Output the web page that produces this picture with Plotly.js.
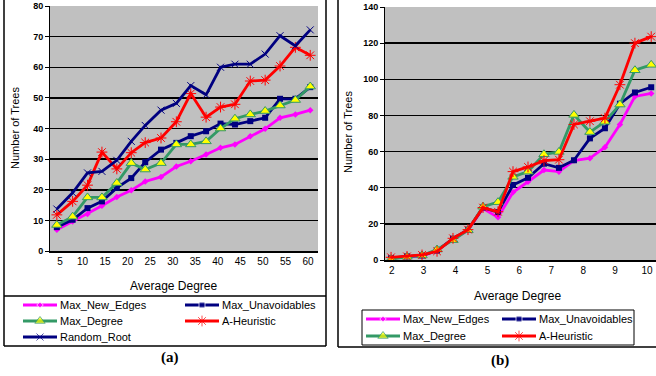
<!DOCTYPE html>
<html>
<head>
<meta charset="utf-8">
<script src="https://cdn.plot.ly/plotly-3.0.1.min.js"></script>
<style>html,body{margin:0;padding:0;background:#fff;overflow:hidden}#chart{width:656px;height:376px}</style>
</head>
<body>
<div id="chart"></div>
<script>
// ---------- data: panel (a) ----------
const xA = [4.3, 7.8, 11.1, 14.3, 17.6, 20.8, 23.9, 27.4, 30.8, 34.0, 37.4, 40.6, 43.8, 47.2, 50.5, 53.8, 57.2, 60.5];
const aNewEdges   = [6.9, 9.6, 12.1, 14.8, 17.6, 19.8, 22.7, 24.2, 27.6, 29.3, 31.5, 33.7, 34.8, 37.5, 39.9, 43.5, 44.6, 46.0];
const aUnavoid    = [7.8, 10.2, 14.0, 16.2, 20.6, 23.8, 29.0, 33.1, 35.3, 37.5, 39.1, 41.6, 41.3, 42.4, 43.5, 49.7, 49.7, 53.5];
const aDegree     = [8.5, 11.2, 17.5, 17.5, 22.2, 28.7, 26.6, 28.7, 34.8, 34.8, 35.8, 40.0, 43.2, 44.6, 45.7, 47.5, 49.3, 53.7];
const aHeuristic  = [11.8, 16.2, 21.5, 32.3, 26.8, 32.1, 35.4, 36.9, 42.2, 51.4, 43.7, 47.0, 47.9, 55.5, 55.8, 60.4, 66.5, 63.9];
const aRandomRoot = [13.7, 19.0, 25.5, 26.0, 29.6, 35.8, 41.0, 46.0, 48.2, 54.0, 51.0, 60.0, 61.0, 61.0, 64.3, 70.3, 67.0, 72.2];
// ---------- data: panel (b) ----------
const xB = [1.98, 2.48, 2.95, 3.42, 3.92, 4.39, 4.86, 5.33, 5.80, 6.27, 6.77, 7.24, 7.71, 8.21, 8.68, 9.15, 9.62, 10.13];
const bNewEdges  = [1.0, 1.8, 2.2, 5.2, 11.5, 16.5, 28.5, 23.6, 37.5, 43.3, 49.8, 48.9, 55.0, 56.3, 62.4, 75.0, 90.5, 92.2];
const bUnavoid   = [1.0, 2.0, 2.5, 5.2, 11.8, 16.8, 29.0, 26.5, 41.5, 45.5, 53.3, 51.0, 55.2, 67.3, 72.9, 86.5, 92.7, 95.6];
const bDegree    = [0.5, 1.8, 2.5, 5.8, 11.0, 16.5, 29.5, 32.0, 46.0, 48.9, 58.5, 59.8, 80.3, 70.8, 76.5, 86.0, 105.0, 108.0];
const bHeuristic = [1.5, 2.0, 2.8, 4.8, 12.0, 16.8, 29.0, 26.7, 48.9, 51.5, 55.0, 55.5, 75.0, 76.8, 78.5, 97.0, 120.0, 123.6];
// ---------- labels ----------
const seriesNames = ['Max_New_Edges', 'Max_Unavoidables', 'Max_Degree', 'A-Heuristic', 'Random_Root'];
const xTitle = 'Average Degree';
const yTitle = 'Number of Trees';
const panelLabels = ['(a)', '(b)'];

// ---------- styles ----------
const W = 656, H = 376;
const px = v => v / W;
const py = v => 1 - v / H;
const styles = [
  {line:{color:'#ff00ff', width:2.8}, marker:{symbol:'diamond', size:5, color:'#ff00ff'}},
  {line:{color:'#000080', width:2.8}, marker:{symbol:'square', size:6, color:'#000080'}},
  {line:{color:'#339966', width:2.8}, marker:{symbol:'triangle-up', size:9, color:'#ffff00', line:{color:'#339966', width:1}}},
  {line:{color:'#ff0000', width:2.8}, marker:{symbol:'asterisk-open', size:9, color:'#ff0000', line:{color:'#ff0000', width:1}}},
  {line:{color:'#000080', width:2.8}, marker:{symbol:'x-thin-open', size:7, color:'#000080', line:{color:'#000080', width:1}}}
];
const clone = o => JSON.parse(JSON.stringify(o));
function tr(x, y, i, ax) {
  return Object.assign({
    type:'scatter', mode:'lines+markers', x:x, y:y, name:seriesNames[i],
    xaxis:'x'+ax, yaxis:'y'+ax, showlegend:false
  }, clone(styles[i]));
}
const traces = [
  tr(xA, aNewEdges, 0, ''),
  tr(xA, aUnavoid, 1, ''),
  tr(xA, aDegree, 2, ''),
  tr(xA, aHeuristic, 3, ''),
  tr(xA, aRandomRoot, 4, ''),
  tr(xB, bNewEdges, 0, '2'),
  tr(xB, bUnavoid, 1, '2'),
  tr(xB, bDegree, 2, '2'),
  tr(xB, bHeuristic, 3, '2')
];

// ---------- legend keys (drawn on an overlay axis in page pixels) ----------
const legFont = {family:'Arial, Liberation Sans', size:11, color:'#000'};
const annotations = [];
function legendKey(i, x0, y) {
  const s = clone(styles[i]);
  s.marker.size = [0, s.marker.size, 0];
  traces.push(Object.assign({type:'scatter', mode:'lines+markers', x:[x0, x0 + 17, x0 + 34], y:[y, y, y],
    xaxis:'x3', yaxis:'y3', showlegend:false, hoverinfo:'skip'}, s));
  annotations.push({text:seriesNames[i], xref:'x3', yref:'y3', x:x0 + 35, y:y, xanchor:'left', yanchor:'middle',
    showarrow:false, font:legFont});
}
// panel (a) legend: 2 columns, 3 rows
legendKey(0, 23, 305); legendKey(1, 185, 305);
legendKey(2, 23, 321); legendKey(3, 185, 321);
legendKey(4, 23, 337);
// panel (b) legend: 2 columns, 2 rows
legendKey(0, 366, 319); legendKey(1, 502, 319);
legendKey(2, 366, 336); legendKey(3, 502, 336);

const tickFontY = {family:'Arial, Liberation Sans', size:9, color:'#000', weight:'bold'};
const tickFontX = {family:'Arial, Liberation Sans', size:10, color:'#000'};
const yBase = {showgrid:true, gridcolor:'#000', gridwidth:1.5, showline:true, linecolor:'#000', linewidth:1,
  ticks:'outside', ticklen:4, tickcolor:'#000', tickfont:tickFontY, zeroline:false, fixedrange:true};
const xBase = {showgrid:false, showline:true, linecolor:'#000', linewidth:1.5, ticks:'', tickfont:tickFontX,
  zeroline:false, fixedrange:true};
const titleFont = {family:'Arial, Liberation Sans', size:12, color:'#000'};
const yTitleFont = {family:'Arial, Liberation Sans', size:11, color:'#000'};
const labFont = {family:'Liberation Serif, Times New Roman', size:15, color:'#000'};
const C = {showarrow:false, xanchor:'center', yanchor:'middle', xref:'paper', yref:'paper'};

annotations.push(
  Object.assign({text:xTitle, x:px(173), y:py(286), font:titleFont}, C),
  Object.assign({text:yTitle, x:px(15), y:py(128), textangle:-90, font:yTitleFont}, C),
  Object.assign({text:xTitle, x:px(517), y:py(296), font:titleFont}, C),
  Object.assign({text:yTitle, x:px(348), y:py(132), textangle:-90, font:yTitleFont}, C),
  Object.assign({text:'<b>'+panelLabels[0]+'</b>', x:px(170), y:py(357), font:labFont}, C),
  Object.assign({text:'<b>'+panelLabels[1]+'</b>', x:px(500), y:py(360), font:labFont}, C)
);

const layout = {
  width:W, height:H, margin:{l:0, r:0, t:0, b:0, autoexpand:false},
  paper_bgcolor:'#fff', plot_bgcolor:'rgba(0,0,0,0)', showlegend:false,
  xaxis: Object.assign({}, xBase, {domain:[px(50), px(318)], range:[2.78, 62.22], tick0:5, dtick:5, anchor:'y'}),
  yaxis: Object.assign({}, yBase, {domain:[py(251), py(6)], range:[0, 80], dtick:10, anchor:'x'}),
  xaxis2: Object.assign({}, xBase, {domain:[px(385), 1], range:[1.79, 10.28], tick0:2, dtick:1, anchor:'y2'}),
  yaxis2: Object.assign({}, yBase, {domain:[py(260), py(7)], range:[0, 140], dtick:20, anchor:'x2'}),
  xaxis3: {domain:[0, 1], range:[0, W], visible:false, fixedrange:true, anchor:'y3'},
  yaxis3: {domain:[0, 1], range:[H, 0], visible:false, fixedrange:true, anchor:'x3'},
  annotations: annotations,
  shapes: [
    // plot backgrounds
    {type:'rect', xref:'x domain', yref:'y domain', x0:0, x1:1, y0:0, y1:1, fillcolor:'#c0c0c0', line:{width:0}, layer:'below'},
    {type:'rect', xref:'x2 domain', yref:'y2 domain', x0:0, x1:1, y0:0, y1:1, fillcolor:'#c0c0c0', line:{width:0}, layer:'below'},
    // frame (a)
    {type:'line', xref:'paper', yref:'paper', x0:px(4), x1:px(4), y0:py(0), y1:py(346), line:{color:'#000', width:1.5}},
    {type:'line', xref:'paper', yref:'paper', x0:px(326), x1:px(326), y0:py(0), y1:py(346), line:{color:'#000', width:1.5}},
    {type:'line', xref:'paper', yref:'paper', x0:px(4), x1:px(326), y0:py(346), y1:py(346), line:{color:'#000', width:1.5}},
    {type:'line', xref:'paper', yref:'paper', x0:px(4), x1:px(326), y0:py(296), y1:py(296), line:{color:'#000', width:1.5}},
    // frame (b)
    {type:'line', xref:'paper', yref:'paper', x0:px(338), x1:px(338), y0:py(0), y1:py(347), line:{color:'#000', width:1.5}},
    {type:'line', xref:'paper', yref:'paper', x0:px(338), x1:px(660), y0:py(347), y1:py(347), line:{color:'#000', width:1.5}},
    {type:'rect', xref:'paper', yref:'paper', x0:px(362), x1:px(634), y0:py(345), y1:py(310), line:{color:'#000', width:1}}
  ]
};

Plotly.newPlot('chart', traces, layout, {staticPlot:true, displayModeBar:false});
</script>
</body>
</html>
